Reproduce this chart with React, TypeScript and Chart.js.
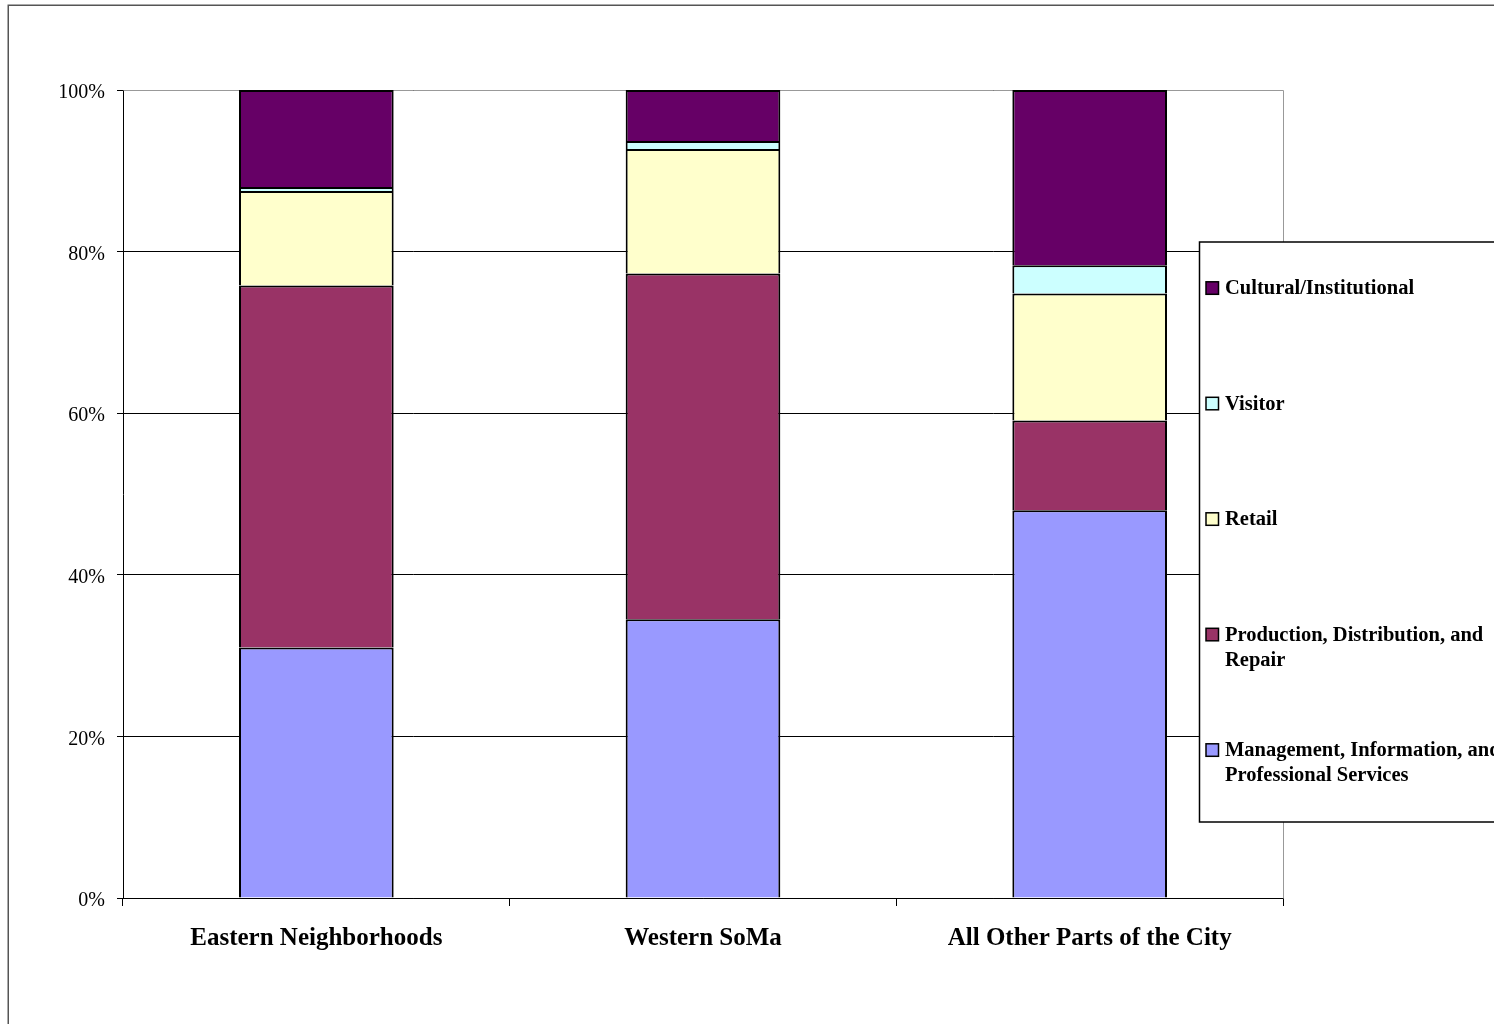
import React, { useEffect, useRef } from "react";
import { Chart, registerables } from "chart.js";

Chart.register(...registerables);

// Categories and series (percent of each area's total)
const categories = ["Eastern Neighborhoods", "Western SoMa", "All Other Parts of the City"];
const management = [31.0, 34.5, 48.0];
const production = [44.8, 42.8, 11.1];
const retail = [11.7, 15.4, 15.7];
const visitor = [0.5, 1.0, 3.5];
const cultural = [12.0, 6.3, 21.7];

const seriesNames = [
  "Management, Information, and Professional Services",
  "Production, Distribution, and Repair",
  "Retail",
  "Visitor",
  "Cultural/Institutional",
];
const seriesColors = ["#9999FF", "#993366", "#FFFFCC", "#CCFFFF", "#660066"];
const seriesValues = [management, production, retail, visitor, cultural];

const yTicks = [0, 20, 40, 60, 80, 100];

const SERIF = '"Liberation Serif", "Times New Roman", serif';

function wrapWords(ctx: CanvasRenderingContext2D, text: string, maxWidth: number): string[] {
  const words = text.split(" ");
  const lines: string[] = [];
  let cur = "";
  for (const w of words) {
    const test = cur ? cur + " " + w : w;
    if (cur && ctx.measureText(test).width > maxWidth) {
      lines.push(cur);
      cur = w;
    } else {
      cur = test;
    }
  }
  if (cur) lines.push(cur);
  return lines;
}

// Outer frame of the chart area
const framePlugin = {
  id: "frame",
  beforeDraw(chart: any) {
    const ctx = chart.ctx;
    ctx.save();
    ctx.fillStyle = "#ffffff";
    ctx.fillRect(0, 0, chart.width, chart.height);
    ctx.strokeStyle = "#555555";
    ctx.lineWidth = 1.5;
    ctx.beginPath();
    ctx.moveTo(8.25, chart.height + 10);
    ctx.lineTo(8.25, 5.25);
    ctx.lineTo(chart.width + 10, 5.25);
    ctx.stroke();
    ctx.restore();
  },
};

// Grey plot-area border on the top and right edges
const plotBorderPlugin = {
  id: "plotBorder",
  beforeDatasetsDraw(chart: any) {
    const { ctx, chartArea } = chart;
    const l = Math.round(chartArea.left) + 0.5;
    const r = Math.round(chartArea.right) + 0.5;
    const t = Math.round(chartArea.top) + 0.5;
    const b = Math.round(chartArea.bottom) + 0.5;
    ctx.save();
    ctx.strokeStyle = "#999999";
    ctx.lineWidth = 1;
    ctx.beginPath();
    ctx.moveTo(l, t);
    ctx.lineTo(r, t);
    ctx.lineTo(r, b);
    ctx.stroke();
    ctx.restore();
  },
};

// Boxed legend on the right, series listed top-down in stack order
const legendPlugin = {
  id: "boxLegend",
  afterDraw(chart: any) {
    const ctx = chart.ctx;
    const boxLeft = 1199.5;
    const boxTop = 242;
    const boxBottom = 822;
    ctx.save();
    ctx.fillStyle = "#ffffff";
    ctx.fillRect(boxLeft, boxTop, 400, boxBottom - boxTop);
    ctx.strokeStyle = "#000000";
    ctx.lineWidth = 1.5;
    ctx.strokeRect(boxLeft, boxTop, 400, boxBottom - boxTop);

    ctx.font = `bold 20.5px ${SERIF}`;
    ctx.textAlign = "left";
    ctx.textBaseline = "alphabetic";
    const items = chart.data.datasets.map((d: any, i: number) => ({ label: d.label, color: d.backgroundColor, i }));
    items.reverse();
    items.forEach((it: any, k: number) => {
      const center = boxTop + 45.5 + k * 115.5;
      const baseline = center + 6.8;
      ctx.fillStyle = it.color;
      ctx.fillRect(1206, baseline - 12.5, 12.5, 12.5);
      ctx.strokeStyle = "#000000";
      ctx.lineWidth = 1.5;
      ctx.strokeRect(1206, baseline - 12.5, 12.5, 12.5);
      ctx.fillStyle = "#000000";
      const lines = wrapWords(ctx, it.label, 285);
      lines.forEach((ln, j) => ctx.fillText(ln, 1225, baseline + j * 25));
    });
    ctx.restore();
  },
};

export default function App() {
  const canvasRef = useRef<HTMLCanvasElement | null>(null);

  useEffect(() => {
    if (!canvasRef.current) return;
    const chart = new Chart(canvasRef.current, {
      type: "bar",
      data: {
        labels: categories,
        datasets: seriesNames.map((name, i) => ({
          label: name,
          data: seriesValues[i],
          backgroundColor: seriesColors[i],
          borderColor: "#000000",
          borderWidth: 2,
          borderSkipped: "start",
          categoryPercentage: 1,
          barPercentage: 0.4,
        })),
      },
      options: {
        animation: false,
        responsive: false,
        devicePixelRatio: 1,
        layout: { padding: { left: 0, right: 211, top: 90, bottom: 0 } },
        plugins: {
          legend: { display: false },
          tooltip: { enabled: false },
          title: { display: false },
        },
        scales: {
          x: {
            stacked: true,
            offset: true,
            grid: {
              offset: true,
              drawOnChartArea: false,
              drawTicks: true,
              tickLength: 8,
              color: (c: any) => (c.index === categories.length ? "#999999" : "#000000"),
            },
            border: { display: true, color: "#000000", width: 1 },
            ticks: {
              color: "#000000",
              padding: 18,
              font: { family: SERIF, size: 25, weight: "bold" },
              maxRotation: 0,
              autoSkip: false,
            },
            afterFit: (scale: any) => {
              scale.height = 126;
            },
          },
          y: {
            stacked: true,
            min: 0,
            max: 100,
            afterBuildTicks: (scale: any) => {
              scale.ticks = yTicks.map((v) => ({ value: v }));
            },
            grid: {
              color: "#000000",
              lineWidth: 1,
              tickLength: 6,
              drawTicks: true,
            },
            border: { display: true, color: "#000000", width: 1 },
            ticks: {
              color: "#000000",
              padding: 12,
              labelOffset: 3,
              font: { family: SERIF, size: 20 },
              callback: (v: any) => `${v}%`,
            },
            afterFit: (scale: any) => {
              scale.width = 123;
            },
          },
        },
      },
      plugins: [framePlugin, plotBorderPlugin, legendPlugin],
    });
    return () => chart.destroy();
  }, []);

  return (
    <div style={{ position: "fixed", left: 0, top: 0, width: 1494, height: 1024, overflow: "hidden", background: "#fff" }}>
      <canvas ref={canvasRef} width={1494} height={1024} style={{ display: "block", width: 1494, height: 1024 }} />
    </div>
  );
}
